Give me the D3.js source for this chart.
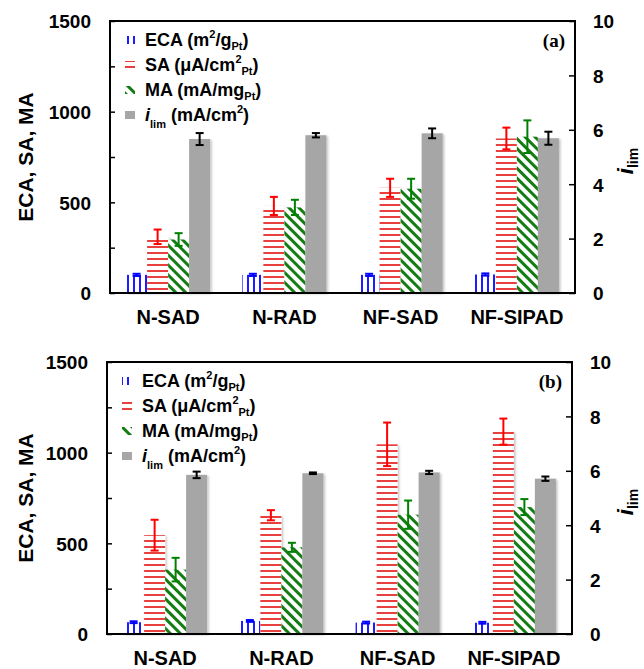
<!DOCTYPE html>
<html>
<head>
<meta charset="utf-8">
<script src="https://cdn.jsdelivr.net/npm/d3@7"></script>
<style>
  body { margin: 0; background: #fff; }
  svg text { font-family: "Liberation Sans", Arial, sans-serif; font-weight: bold; fill: #000; }
</style>
</head>
<body>
<div id="chart"></div>
<script>
const w = 644;
const h = 669;

const categories = ["N-SAD", "N-RAD", "NF-SAD", "NF-SIPAD"];
const series = ["ECA", "SA", "MA", "ilim"];

// panel (a)
const ecaA = [100, 100, 100, 102];
const ecaErrA = [6, 6, 6, 6];
const saA = [310, 480, 580, 852];
const saErrA = [40, 50, 50, 60];
const maA = [295, 472, 575, 862];
const maErrA = [35, 42, 55, 90];
const ilimA = [5.66, 5.8, 5.87, 5.69];
const ilimErrA = [0.22, 0.08, 0.18, 0.24];

// panel (b)
const ecaB = [65, 72, 63, 62];
const ecaErrB = [5, 5, 5, 5];
const saB = [545, 655, 1046, 1116];
const saErrB = [85, 28, 120, 72];
const maB = [355, 478, 658, 700];
const maErrB = [65, 25, 78, 44];
const ilimB = [5.85, 5.91, 5.94, 5.71];
const ilimErrB = [0.12, 0.03, 0.06, 0.08];

const leftTicks = [0, 250, 500, 750, 1000, 1250, 1500];
const rightTicks = [0, 2, 4, 6, 8, 10];

const legendParts = [
  [{t: "ECA (m"}, {t: "2", s: "sup"}, {t: "/g"}, {t: "Pt", s: "sub"}, {t: ")"}],
  [{t: "SA (\u03bcA/cm"}, {t: "2", s: "sup"}, {t: "Pt", s: "sub"}, {t: ")"}],
  [{t: "MA (mA/mg"}, {t: "Pt", s: "sub"}, {t: ")"}],
  [{t: "i", i: true}, {t: "lim", s: "low"}, {t: " (mA/cm"}, {t: "2", s: "sup"}, {t: ")"}]
];

const colors = {
  ECA: "#1c1cff", SA: "#e8403f", MA: "#137d13", ilim: "#a6a6a6"
};
const errColors = {
  ECA: "#0000ff", SA: "#ff0000", MA: "#008000", ilim: "#000"
};
const fills = {
  ECA: "url(#pEca)", SA: "url(#pSa)", MA: "url(#pMa)", ilim: colors.ilim
};

const svg = d3.select("#chart").append("svg")
  .attr("width", w).attr("height", h);

const defs = svg.append("defs");

defs.append("pattern").attr("id", "pEca")
  .attr("patternUnits", "userSpaceOnUse").attr("width", 6).attr("height", 6)
  .append("rect").attr("x", 1).attr("width", 2).attr("height", 6).attr("fill", colors.ECA);

defs.append("pattern").attr("id", "pSa")
  .attr("patternUnits", "userSpaceOnUse").attr("width", 6).attr("height", 6)
  .append("rect").attr("y", 0).attr("width", 6).attr("height", 2).attr("fill", colors.SA);

defs.append("pattern").attr("id", "pMa")
  .attr("patternUnits", "userSpaceOnUse").attr("width", 7).attr("height", 7)
  .attr("patternTransform", "rotate(-45)")
  .append("rect").attr("width", 3).attr("height", 7).attr("fill", colors.MA);

const shadow = defs.append("filter").attr("id", "shadow")
  .attr("x", "-30%").attr("y", "-10%").attr("width", "160%").attr("height", "120%");
shadow.append("feDropShadow")
  .attr("dx", 1.5).attr("dy", 1).attr("stdDeviation", 1.3)
  .attr("flood-color", "#000").attr("flood-opacity", 0.25);

// write text with sub/superscripts
const rich = (sel, parts, size) => {
  let shift = 0;
  parts.forEach((p) => {
    let target = 0;
    if (p.s === "sup") target = -0.42 * size;
    if (p.s === "sub") target = 0.22 * size;
    if (p.s === "low") target = 0.38 * size;
    sel.append("tspan")
      .attr("dy", target - shift)
      .style("font-size", (p.s ? Math.round(size * 0.62) : size) + "px")
      .style("font-style", p.i ? "italic" : null)
      .text(p.t);
    shift = target;
  });
};

const panels = [
  {label: "(a)", left: 110, right: 575, top: 21, bottom: 293,
   values: {ECA: ecaA, SA: saA, MA: maA, ilim: ilimA},
   errors: {ECA: ecaErrA, SA: saErrA, MA: maErrA, ilim: ilimErrA}},
  {label: "(b)", left: 107, right: 572, top: 362, bottom: 634,
   values: {ECA: ecaB, SA: saB, MA: maB, ilim: ilimB},
   errors: {ECA: ecaErrB, SA: saErrB, MA: maErrB, ilim: ilimErrB}}
];

panels.forEach((p) => {
  const g = svg.append("g");

  const x = d3.scaleBand().domain(categories).range([p.left, p.right])
    .paddingInner(0.277).paddingOuter(0.1385);
  const xs = d3.scaleBand().domain(series).range([0, x.bandwidth()]);
  const yL = d3.scaleLinear().domain([0, 1500]).range([p.bottom, p.top]);
  const yR = d3.scaleLinear().domain([0, 10]).range([p.bottom, p.top]);
  const yOf = (s) => (s === "ilim" ? yR : yL);

  // bars
  series.forEach((s) => {
    const y = yOf(s);
    const sg = g.append("g");
    const vals = p.values[s];
    sg.selectAll("rect.base").data(vals).enter().append("rect")
      .attr("class", "base")
      .attr("x", (d, i) => x(categories[i]) + xs(s))
      .attr("width", xs.bandwidth())
      .attr("y", (d) => y(d))
      .attr("height", (d) => y(0) - y(d))
      .attr("fill", s === "ilim" ? colors.ilim : "#fff")
      .attr("filter", "url(#shadow)");
    if (s !== "ilim") {
      sg.selectAll("rect.pat").data(vals).enter().append("rect")
        .attr("class", "pat")
        .attr("x", (d, i) => x(categories[i]) + xs(s))
        .attr("width", xs.bandwidth())
        .attr("y", (d) => y(d))
        .attr("height", (d) => y(0) - y(d))
        .attr("fill", fills[s]);
    }
  });

  // error bars
  series.forEach((s) => {
    const y = yOf(s);
    const vals = p.values[s];
    const errs = p.errors[s];
    const eg = g.append("g").attr("stroke", errColors[s]).attr("stroke-width", 2).attr("fill", "none");
    vals.forEach((v, i) => {
      const cx = x(categories[i]) + xs(s) + xs.bandwidth() / 2;
      const y1 = y(v + errs[i]);
      const y2 = y(v - errs[i]);
      eg.append("line").attr("x1", cx).attr("x2", cx).attr("y1", y1).attr("y2", y2);
      eg.append("line").attr("x1", cx - 4).attr("x2", cx + 4).attr("y1", y1).attr("y2", y1);
      eg.append("line").attr("x1", cx - 4).attr("x2", cx + 4).attr("y1", y2).attr("y2", y2);
    });
  });

  // axes
  const axL = g.append("g").attr("transform", `translate(${p.left},0)`)
    .call(d3.axisLeft(yL).tickValues(leftTicks).tickSize(-5).tickPadding(19)
      .tickFormat((d) => (d % 500 === 0 ? d : "")));
  const axR = g.append("g").attr("transform", `translate(${p.right},0)`)
    .call(d3.axisRight(yR).tickValues(rightTicks).tickSize(-6).tickPadding(18));
  [axL, axR].forEach((ax) => {
    ax.select(".domain").remove();
    ax.selectAll(".tick line").attr("stroke", "#000").attr("stroke-width", 1.5);
    ax.selectAll(".tick text").attr("font-family", null).attr("font-size", null)
      .style("font-size", "19px").attr("dy", "0.36em");
  });

  g.append("rect")
    .attr("x", p.left).attr("y", p.top)
    .attr("width", p.right - p.left).attr("height", p.bottom - p.top)
    .attr("fill", "none").attr("stroke", "#000").attr("stroke-width", 2);

  // category labels
  g.selectAll("text.cat").data(categories).enter().append("text")
    .attr("class", "cat")
    .attr("x", (d) => x(d) + x.bandwidth() / 2)
    .attr("y", p.bottom + 31)
    .attr("text-anchor", "middle")
    .style("font-size", "20px")
    .text((d) => d);

  // axis titles
  const cy = (p.top + p.bottom) / 2;
  g.append("text")
    .attr("transform", `translate(33,${cy}) rotate(-90)`)
    .attr("text-anchor", "middle")
    .style("font-size", "21px")
    .text("ECA, SA, MA");
  const rt = g.append("text")
    .attr("transform", `translate(633,${cy + 4}) rotate(-90)`)
    .attr("text-anchor", "middle");
  rich(rt, [{t: "i", i: true}, {t: "lim", s: "sub"}], 22);

  // panel label
  g.append("text")
    .attr("x", p.right - 10).attr("y", p.top + 26)
    .attr("text-anchor", "end")
    .style("font-family", "'Liberation Serif', 'Times New Roman', serif")
    .style("font-size", "19px")
    .text(p.label);

  // legend
  series.forEach((s, i) => {
    const by = p.top + 25 + i * 25;
    g.append("rect")
      .attr("x", p.left + 15).attr("y", by - 10)
      .attr("width", 10).attr("height", 8)
      .attr("fill", fills[s]);
    const t = g.append("text").attr("x", p.left + 35).attr("y", by);
    rich(t, legendParts[i], 18);
  });
});
</script>
</body>
</html>
